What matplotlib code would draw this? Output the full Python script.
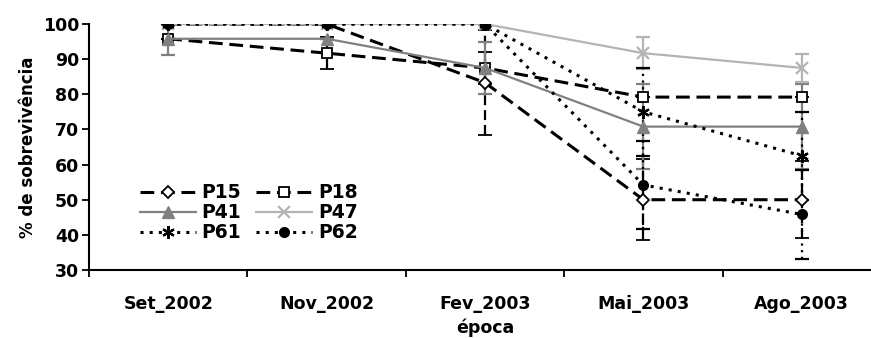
import matplotlib as mpl
import matplotlib.pyplot as plt

mpl.rcParams.update(
    {
        "font.family": ["DejaVu Sans"],
        "font.weight": "bold",
        "axes.labelweight": "bold",
        "font.size": 12.5,
        "text.color": "black",
    }
)

# data
epocas = ["Set_2002", "Nov_2002", "Fev_2003", "Mai_2003", "Ago_2003"]

p15 = [100, 100, 83.3, 50, 50]
p18 = [95.8, 91.7, 87.5, 79.2, 79.2]
p41 = [95.8, 95.8, 87.5, 70.8, 70.8]
p47 = [100, 100, 100, 91.7, 87.5]
p61 = [100, 100, 100, 75, 62.5]
p62 = [100, 100, 100, 54.2, 45.8]

p15_err = [0, 0, 15, 11.5, 11]
p18_err = [0, 4.5, 4.5, 0, 0]
p41_err = [4.5, 0, 7.5, 12, 12]
p47_err = [0, 0, 0, 4.5, 4]
p61_err = [0, 0, 0, 12.5, 12.5]
p62_err = [0, 0, 0, 12.5, 12.6]

series = [
    ("P15", p15, p15_err, dict(color="black", ls=(0, (4.5, 2.2)), lw=2.2, marker="D", ms=6,
                               mfc="white", mec="black", mew=1.3)),
    ("P18", p18, p18_err, dict(color="black", ls=(0, (4.5, 2.2)), lw=2.2, marker="s", ms=7,
                               mfc="white", mec="black", mew=1.3)),
    ("P41", p41, p41_err, dict(color="#808080", ls="-", lw=1.6, marker="^", ms=8,
                               mfc="#808080", mec="#808080")),
    ("P47", p47, p47_err, dict(color="#b4b4b4", ls="-", lw=1.6, marker="x", ms=8,
                               mfc="#b4b4b4", mec="#b4b4b4", mew=1.6)),
    ("P61", p61, p61_err, dict(color="black", ls=(0, (1, 2)), lw=2.2, marker=(6, 2, 0), ms=9,
                               mfc="black", mec="black", mew=1.6)),
    ("P62", p62, p62_err, dict(color="black", ls=(0, (1, 2)), lw=2.2, marker="o", ms=7,
                               mfc="black", mec="black")),
]

fig = plt.figure(figsize=(8.71, 3.38), dpi=100)
ax = fig.add_axes([89 / 871, 1 - 270 / 338, 792 / 871, 246 / 338])

x = list(range(len(epocas)))
handles = {}
for name, vals, err, st in series:
    eb = ax.errorbar(x, vals, yerr=err, capsize=5, elinewidth=1.6, capthick=1.6,
                     ecolor=st["color"], label=name, **st)
    if st["ls"] != "-":
        for col in eb[2]:
            col.set_linestyle(st["ls"])
    handles[name] = eb[0]

ax.set_xlim(-0.5, 4.5)
ax.set_ylim(30, 100)
ax.set_yticks(range(30, 101, 10))
ax.set_xticks([i - 0.5 for i in range(len(epocas) + 1)])
ax.set_xticklabels([])
ax.set_xticks(x, minor=True)
ax.set_xticklabels(epocas, minor=True)
ax.tick_params(axis="x", which="minor", length=0, pad=18)
ax.tick_params(axis="x", which="major", length=5, width=1.3, direction="out")
ax.tick_params(axis="y", length=5, width=1.3, direction="out", pad=2)

for side in ("top", "right"):
    ax.spines[side].set_visible(False)
for side in ("left", "bottom"):
    ax.spines[side].set_linewidth(1.5)

ax.set_ylabel("% de sobrevivência", fontsize=12, labelpad=4)
ax.set_xlabel("época", fontsize=12.5, labelpad=4)

order = ["P15", "P41", "P61", "P18", "P47", "P62"]
ax.legend([handles[k] for k in order], order, ncol=2, loc="lower left",
          bbox_to_anchor=(0.052, 0.075), frameon=False, fontsize=13.5,
          handlelength=3.0, handletextpad=0.3, columnspacing=0.8,
          labelspacing=0.05, borderpad=0)

fig.savefig("out.png", dpi=100)
